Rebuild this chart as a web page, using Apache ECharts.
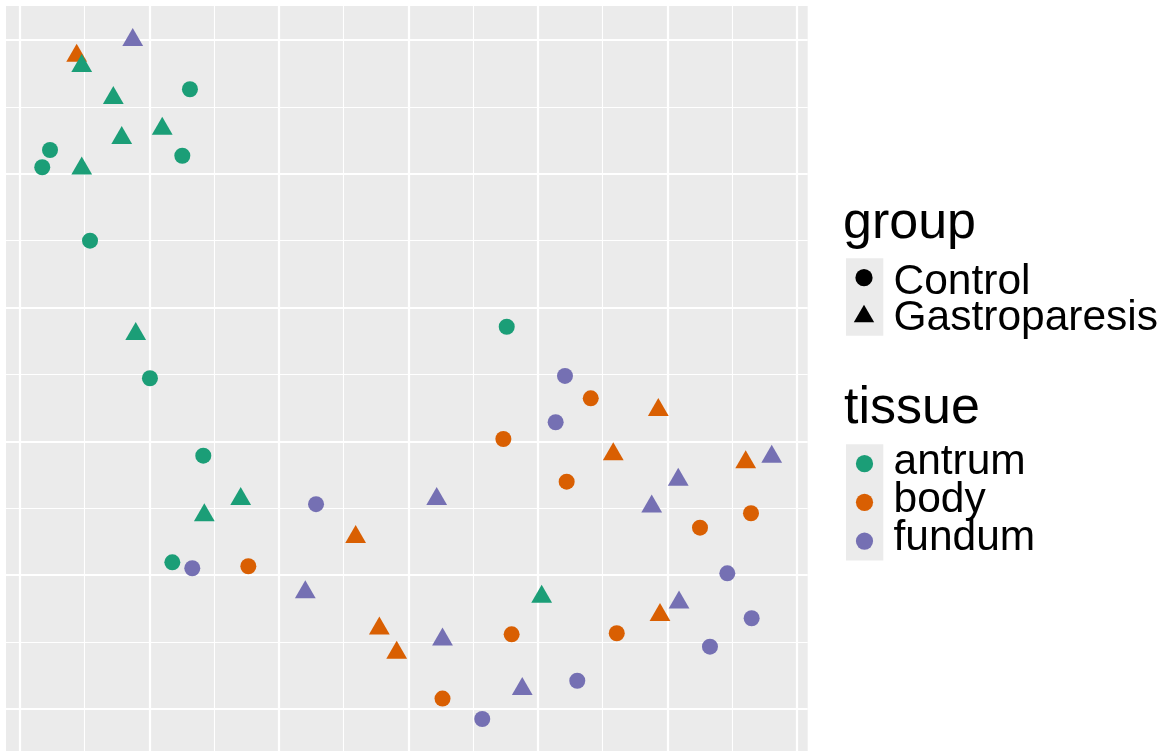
<!DOCTYPE html>
<html>
<head>
<meta charset="utf-8">
<script src="https://cdn.jsdelivr.net/npm/echarts@6/dist/echarts.min.js"></script>
<style>
  html, body { margin: 0; padding: 0; background: #ffffff; }
  #chart { width: 1168px; height: 751px; }
</style>
</head>
<body>
<div id="chart"></div>
<script>
// Legend categories
const groups = ['Control', 'Gastroparesis'];
const tissues = ['antrum', 'body', 'fundum'];
const tissueColors = ['#1B9E77', '#D95F02', '#7570B3'];

// Embedding coordinates [x, y] per tissue and group
const antrumControl = [
  [-16.87, 16.32], [-27.68, 11.78], [-28.28, 10.49], [-17.46, 11.35], [-24.59, 5.00],
  [-19.96, -5.28], [-15.84, -11.07], [-18.23, -19.04], [7.60, -1.43]
];
const antrumGastroparesis = [
  [-25.23, 18.06], [-22.79, 15.67], [-19.01, 13.37], [-22.14, 12.68], [-25.23, 10.39],
  [-21.06, -1.97], [-12.95, -14.30], [-15.76, -15.52], [10.30, -21.61]
];
const bodyControl = [
  [7.34, -9.82], [14.09, -6.78], [12.23, -13.01], [-12.36, -19.33], [22.53, -16.45],
  [26.47, -15.37], [7.98, -24.42], [16.10, -24.34], [2.64, -29.22]
];
const bodyGastroparesis = [
  [-25.62, 18.83], [19.31, -7.66], [15.83, -10.96], [26.06, -11.55], [-4.07, -17.15],
  [-2.24, -23.98], [-0.90, -25.79], [19.44, -22.97]
];
const fundumControl = [
  [12.10, -5.11], [11.38, -8.57], [-7.13, -14.69], [-16.69, -19.48], [24.64, -19.86],
  [26.52, -23.22], [23.30, -25.34], [13.05, -27.89], [5.71, -30.75]
];
const fundumGastroparesis = [
  [-21.29, 19.99], [2.19, -14.30], [18.80, -14.87], [20.85, -12.86], [28.07, -11.14],
  [-7.96, -21.27], [2.64, -24.81], [8.80, -28.50], [20.91, -22.05]
];

// Axis ranges and gridline breaks
const xRange = [-31.08, 30.85];
const yRange = [-33.14, 22.54];
const xBreaks = [-30, 30, 10];
const yBreaks = [-30, 20, 10];

const FONT = '"Liberation Sans", Arial, sans-serif';
const CIRCLE = 16;
const TRI = [20.8, 18];

// Drawing order: body, fundum, antrum
const layers = [
  { tissue: 1, group: 0, data: bodyControl },
  { tissue: 1, group: 1, data: bodyGastroparesis },
  { tissue: 2, group: 0, data: fundumControl },
  { tissue: 2, group: 1, data: fundumGastroparesis },
  { tissue: 0, group: 0, data: antrumControl },
  { tissue: 0, group: 1, data: antrumGastroparesis }
];

const series = layers.map(l => ({
  type: 'scatter',
  name: tissues[l.tissue] + ' ' + groups[l.group],
  xAxisIndex: 0,
  yAxisIndex: 0,
  data: l.data,
  symbol: l.group === 0 ? 'circle' : 'triangle',
  symbolSize: l.group === 0 ? CIRCLE : TRI,
  // R's filled triangle sits on its centroid
  symbolOffset: l.group === 0 ? [0, 0] : [0, -TRI[1] / 6],
  itemStyle: { color: tissueColors[l.tissue], opacity: 1 },
  emphasis: { disabled: true },
  silent: true,
  z: 3
}));

const hiddenAxis = { show: false, splitLine: { show: false } };
const gridLineAxis = (gridIndex, b) => ({
  gridIndex,
  type: 'value',
  min: b[0], max: b[1], interval: b[2],
  axisLine: { show: false }, axisTick: { show: false }, axisLabel: { show: false },
  splitLine: { show: true, lineStyle: { color: '#ffffff', width: 2.2 } },
  minorTick: { show: false, splitNumber: 2 },
  minorSplitLine: { show: true, lineStyle: { color: '#ffffff', width: 1.1 } }
});

// Legend drawn as graphic elements
const legend = [];
const keyX = 846, keyW = 37.3, keyH = 38.7, labelX = 893.5;
legend.push({ type: 'text', x: 843, y: 223.7,
  style: { text: 'group', font: '52px ' + FONT, fill: '#000', align: 'left', verticalAlign: 'middle' } });
legend.push({ type: 'rect', shape: { x: keyX, y: 258.3, width: keyW, height: keyH * groups.length },
  style: { fill: '#EBEBEB' } });
const groupLabelY = [282.5, 318.6];
groups.forEach((g, i) => {
  const cy = 258.3 + keyH * (i + 0.5);
  if (i === 0) {
    legend.push({ type: 'circle', shape: { cx: 864, cy: cy, r: 8.6 }, style: { fill: '#000' } });
  } else {
    legend.push({ type: 'polygon', shape: { points: [[864, cy - 11.5], [874.2, cy + 5.8], [853.8, cy + 5.8]] },
      style: { fill: '#000' } });
  }
  legend.push({ type: 'text', x: labelX, y: groupLabelY[i],
    style: { text: g, font: '42.5px ' + FONT, fill: '#000', align: 'left', verticalAlign: 'middle' } });
});

legend.push({ type: 'text', x: 844, y: 408.7,
  style: { text: 'tissue', font: '52px ' + FONT, fill: '#000', align: 'left', verticalAlign: 'middle' } });
legend.push({ type: 'rect', shape: { x: keyX, y: 444.3, width: keyW, height: keyH * tissues.length },
  style: { fill: '#EBEBEB' } });
const tissueLabelY = [462.3, 500.5, 538.5];
tissues.forEach((t, i) => {
  const cy = 444.3 + keyH * (i + 0.5);
  legend.push({ type: 'circle', shape: { cx: 864.5, cy: cy, r: 8.6 }, style: { fill: tissueColors[i] } });
  legend.push({ type: 'text', x: labelX, y: tissueLabelY[i],
    style: { text: t, font: '42.5px ' + FONT, fill: '#000', align: 'left', verticalAlign: 'middle' } });
});

const option = {
  animation: false,
  backgroundColor: '#ffffff',
  grid: [
    // panel
    { left: 6, top: 6, width: 801.7, height: 745, show: true, backgroundColor: '#EBEBEB', borderWidth: 0 },
    // vertical gridlines span the full panel height
    { left: 20, top: 6, width: 776.7, height: 745, show: false },
    // horizontal gridlines span the full panel width
    { left: 6, top: 40, width: 801.7, height: 669, show: false }
  ],
  xAxis: [
    Object.assign({ gridIndex: 0, type: 'value', min: xRange[0], max: xRange[1] }, hiddenAxis),
    gridLineAxis(1, xBreaks),
    Object.assign({ gridIndex: 2, type: 'value', min: 0, max: 1 }, hiddenAxis)
  ],
  yAxis: [
    Object.assign({ gridIndex: 0, type: 'value', min: yRange[0], max: yRange[1] }, hiddenAxis),
    Object.assign({ gridIndex: 1, type: 'value', min: 0, max: 1 }, hiddenAxis),
    gridLineAxis(2, yBreaks)
  ],
  series: series,
  graphic: legend
};

const chart = echarts.init(document.getElementById('chart'), null, { renderer: 'canvas' });
chart.setOption(option);
</script>
</body>
</html>
